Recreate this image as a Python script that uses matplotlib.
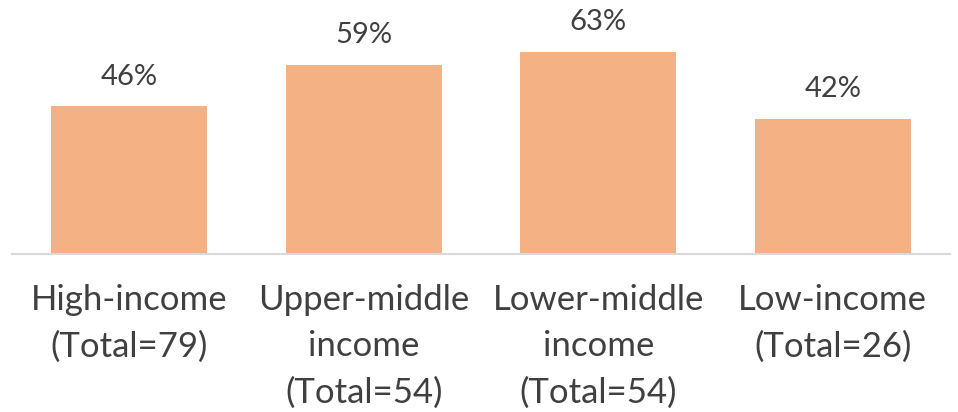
import matplotlib.pyplot as plt

categories = ["High-income\n(Total=79)", "Upper-middle\nincome\n(Total=54)",
              "Lower-middle\nincome\n(Total=54)", "Low-income\n(Total=26)"]
shares = [46, 59, 63, 42]

BAR_COLOR = "#F4B183"
TEXT_COLOR = "#404040"

plt.rcParams['font.family'] = ['Lato', 'DejaVu Sans']

fig = plt.figure(figsize=(9.58, 4.12), dpi=100)
ax = fig.add_axes([12 / 958, 158.5 / 412, 938 / 958, 253.5 / 412])

x = range(len(categories))
bars = ax.bar(x, shares, width=0.665, color=BAR_COLOR, zorder=2)

for rect, v in zip(bars, shares):
    ax.annotate(f"{v}%", (rect.get_x() + rect.get_width() / 2, v),
                xytext=(0, 12), textcoords="offset points",
                ha="center", va="bottom", fontsize=21, color=TEXT_COLOR)

ax.set_xlim(-0.5, len(categories) - 0.5)
ax.set_ylim(0, 79.2)
ax.set_xticks(list(x))
ax.set_xticklabels(categories, fontsize=25, color=TEXT_COLOR, linespacing=1.55)
ax.tick_params(axis="x", length=0, pad=22)
ax.set_yticks([])

for side in ["top", "right", "left"]:
    ax.spines[side].set_visible(False)
ax.spines["bottom"].set_color("#D9D9D9")
ax.spines["bottom"].set_linewidth(1.5)

fig.savefig("out.png", dpi=100)
